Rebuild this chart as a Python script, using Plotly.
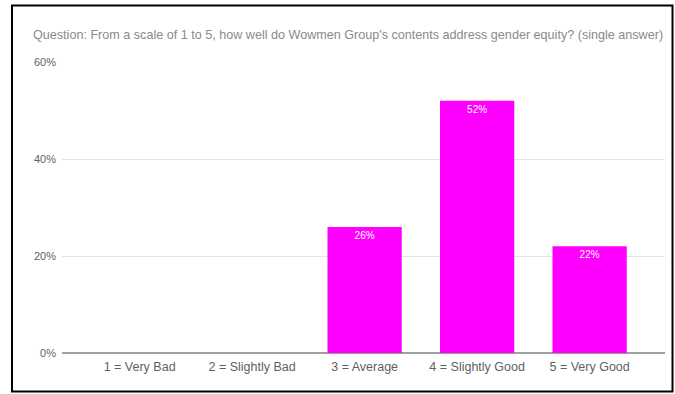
import plotly.graph_objects as go

categories = ["1 = Very Bad", "2 = Slightly Bad", "3 = Average", "4 = Slightly Good", "5 = Very Good"]
shares = [0.0, 0.0, 0.26, 0.52, 0.22]
bar_labels = ["", "", "26%", "52%", "22%"]
title_text = "Question: From a scale of 1 to 5, how well do Wowmen Group's contents address gender equity? (single answer)"

W, H = 675, 394
L, R, T, B = 62, 10, 62, 41
pw, ph = W - L - R, H - T - B

def px(x):
    return (x - L) / pw

def py(y):
    return (H - B - y) / ph

fig = go.Figure()
fig.add_trace(go.Bar(
    x=list(range(len(categories))),
    y=shares,
    text=bar_labels,
    textposition="inside",
    insidetextanchor="end",
    textfont=dict(color="white", size=10, family="Arial"),
    marker=dict(color="#ff00ff", line=dict(width=0)),
    width=0.66,
    hoverinfo="skip",
))

fig.update_layout(
    width=W, height=H,
    margin=dict(l=L, r=R, t=T, b=B),
    paper_bgcolor="white", plot_bgcolor="white",
    showlegend=False,
    font=dict(family="Arial", color="#666666"),
    title=dict(text=title_text, x=33 / W, xref="container", xanchor="left",
               y=1 - 35 / H, yref="container", yanchor="middle",
               font=dict(size=12.6, color="#8a8a8a", family="Arial")),
    xaxis=dict(
        range=[-0.69, 4.67],
        tickmode="array",
        tickvals=list(range(len(categories))),
        ticktext=categories,
        showgrid=False, zeroline=False, showline=False,
        ticks="", ticklabelstandoff=4,
        tickfont=dict(size=12.5, color="#5f5f5f"),
    ),
    yaxis=dict(
        range=[0, 0.6],
        tickvals=[0, 0.2, 0.4, 0.6],
        tickformat=".0%",
        showgrid=True, gridcolor="#e3e3e3", gridwidth=1,
        zeroline=True, zerolinecolor="#a0a0a0", zerolinewidth=2,
        showline=False, ticks="", ticklabelstandoff=5,
        tickfont=dict(size=11, color="#5f5f5f"),
    ),
    shapes=[dict(type="rect", xref="paper", yref="paper",
                 x0=px(12), x1=px(672.5), y0=py(391.5), y1=py(5.5),
                 line=dict(color="black", width=2), layer="above")],
)

fig.write_html("out.html")
